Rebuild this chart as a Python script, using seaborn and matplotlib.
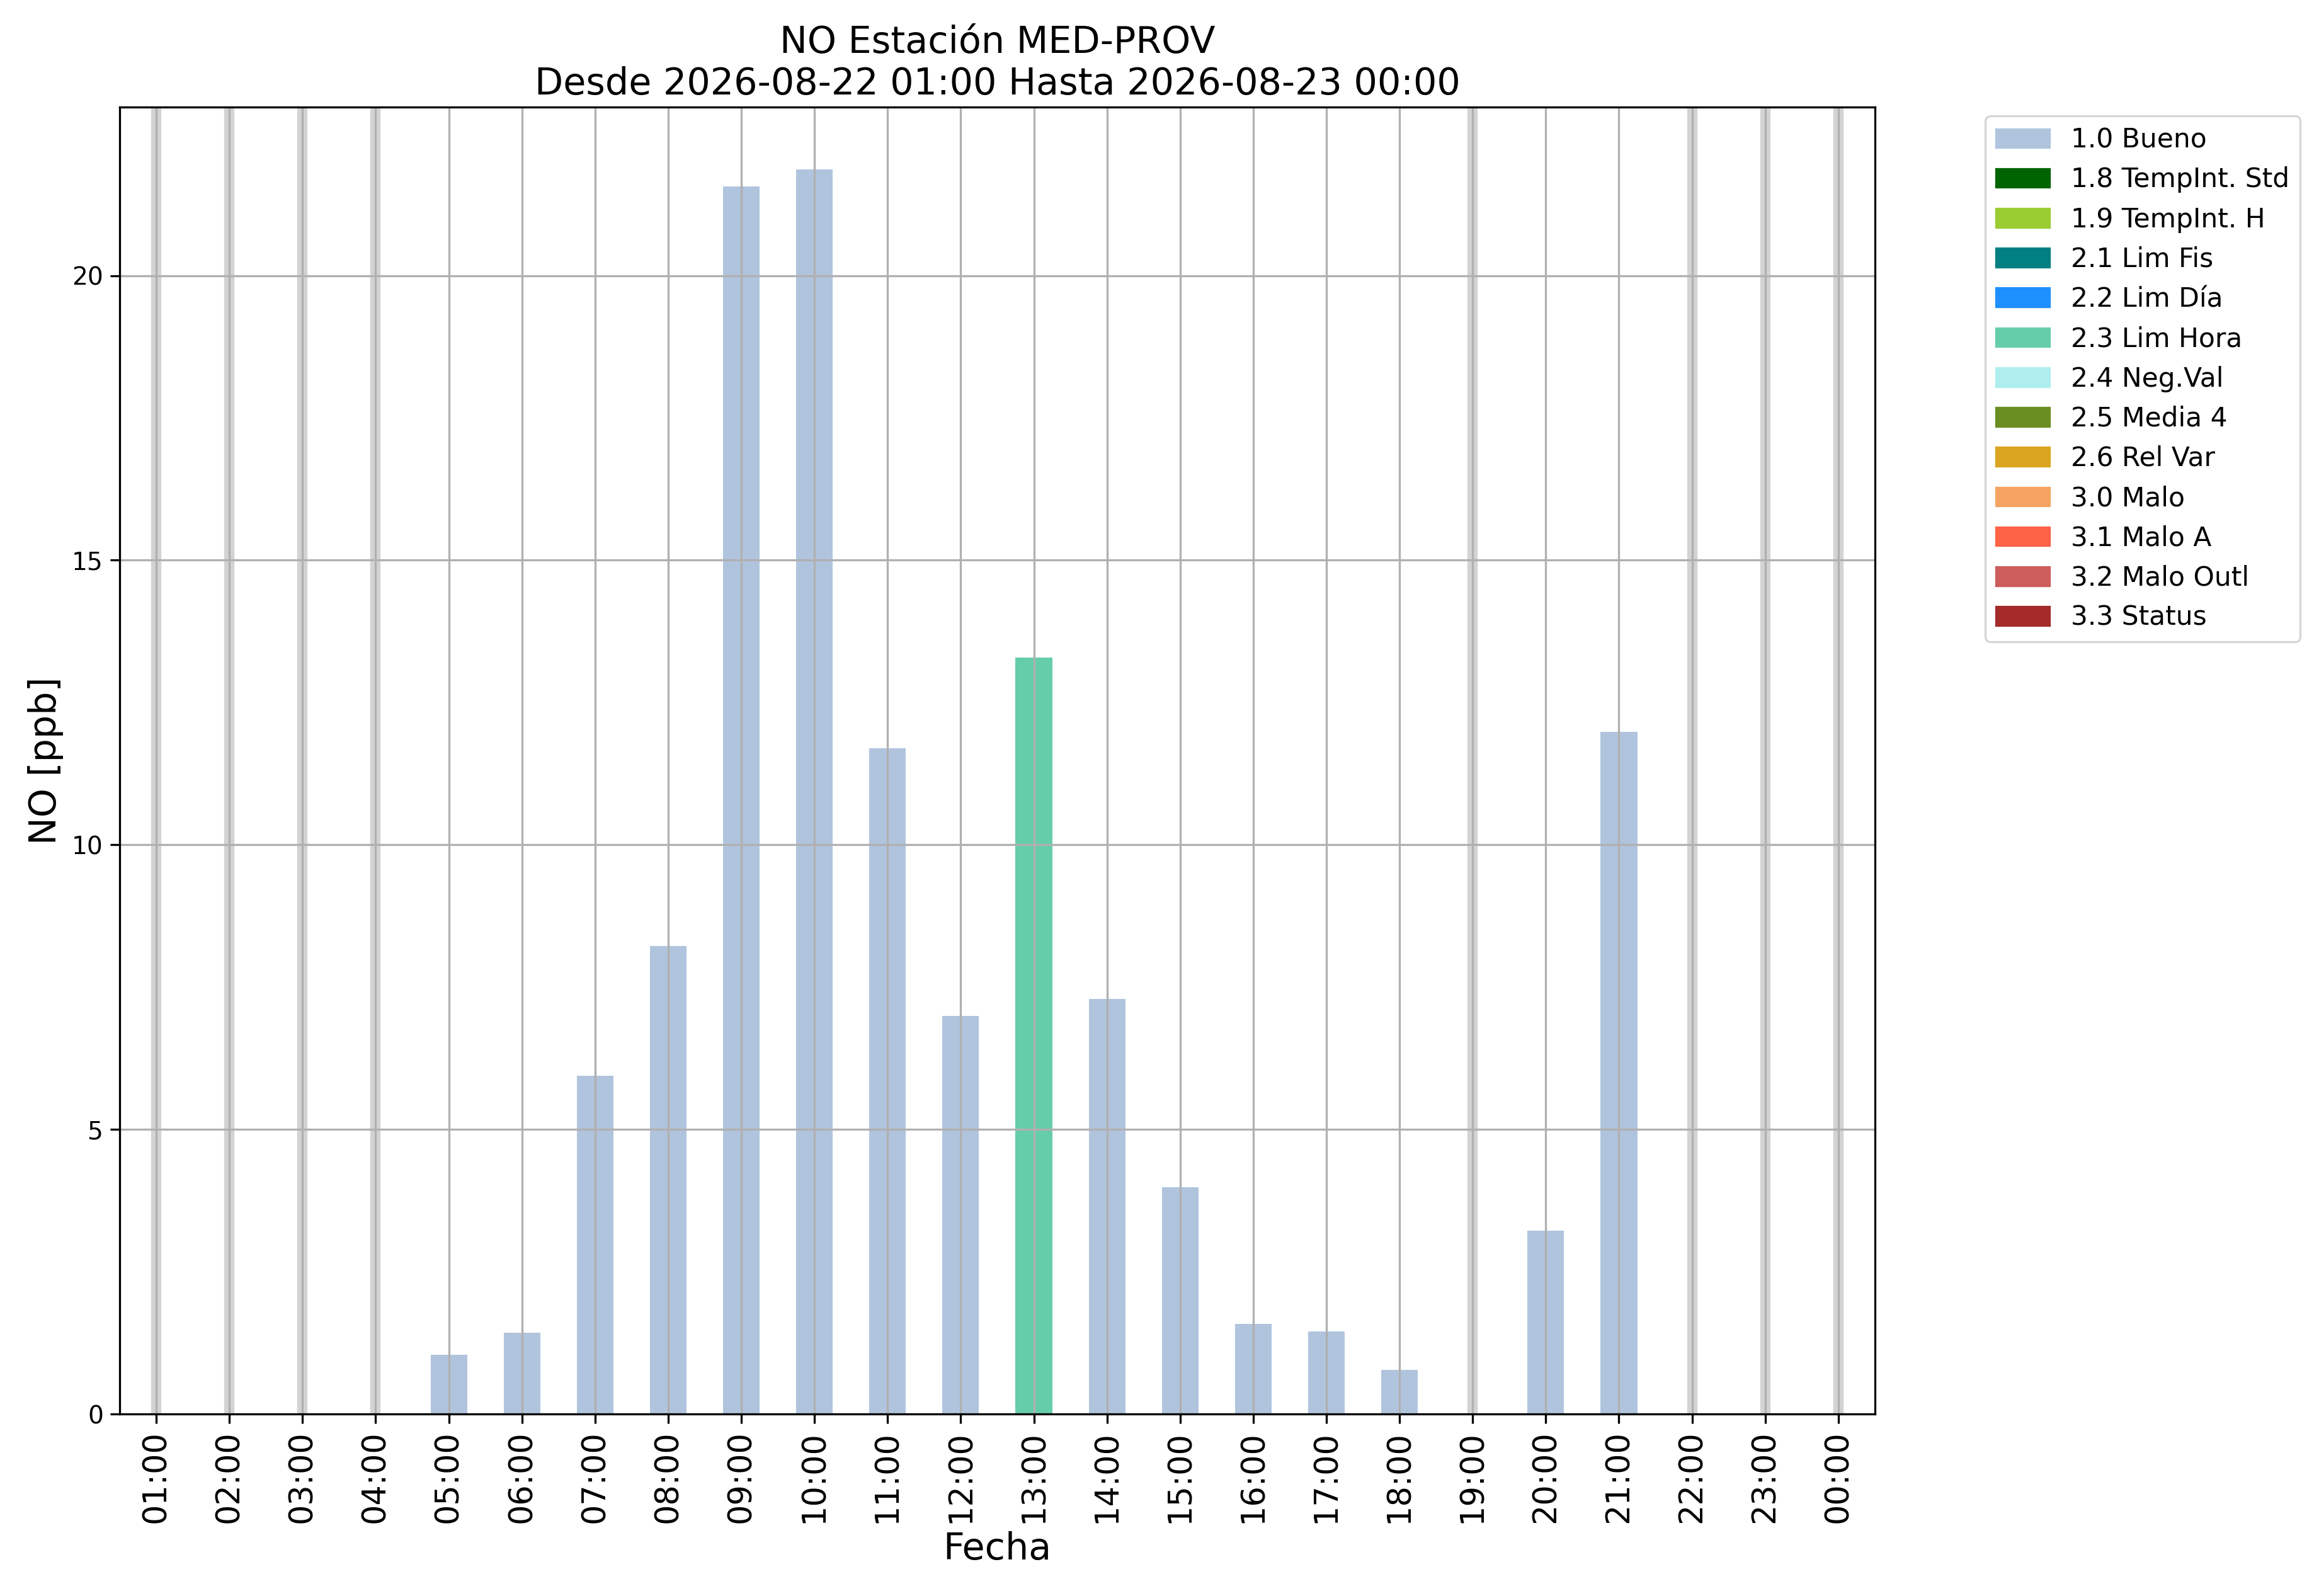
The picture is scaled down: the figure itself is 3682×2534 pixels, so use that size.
import numpy as np
import pandas as pd
import matplotlib
matplotlib.use('Agg')
import matplotlib.pyplot as plt
import seaborn as sns
from matplotlib.patches import Patch

# Datos horarios NO (ppb), NaN = sin dato
horas = ['01:00', '02:00', '03:00', '04:00', '05:00', '06:00', '07:00', '08:00',
         '09:00', '10:00', '11:00', '12:00', '13:00', '14:00', '15:00', '16:00',
         '17:00', '18:00', '19:00', '20:00', '21:00', '22:00', '23:00', '00:00']
valores = [np.nan, np.nan, np.nan, np.nan, 1.04, 1.43, 5.94, 8.22,
           21.57, 21.87, 11.70, 6.99, 13.29, 7.29, 3.99, 1.58,
           1.45, 0.78, np.nan, 3.22, 11.98, np.nan, np.nan, np.nan]
banderas = ['', '', '', '', '1.0 Bueno', '1.0 Bueno', '1.0 Bueno', '1.0 Bueno',
            '1.0 Bueno', '1.0 Bueno', '1.0 Bueno', '1.0 Bueno', '2.3 Lim Hora', '1.0 Bueno',
            '1.0 Bueno', '1.0 Bueno', '1.0 Bueno', '1.0 Bueno', '', '1.0 Bueno',
            '1.0 Bueno', '', '', '']

# Categorias de calidad y colores
categorias = ['1.0 Bueno', '1.8 TempInt. Std', '1.9 TempInt. H', '2.1 Lim Fis',
              '2.2 Lim Día', '2.3 Lim Hora', '2.4 Neg.Val', '2.5 Media 4',
              '2.6 Rel Var', '3.0 Malo', '3.1 Malo A', '3.2 Malo Outl', '3.3 Status']
colores = ['lightsteelblue', 'darkgreen', 'yellowgreen', 'teal',
           'dodgerblue', 'mediumaquamarine', 'paleturquoise', 'olivedrab',
           'goldenrod', 'sandybrown', 'tomato', 'indianred', 'brown']

df = pd.DataFrame({'Fecha': horas, 'NO': valores, 'Flag': banderas})
paleta = dict(zip(categorias, colores))

# todo un poco mas grueso (la figura original era mas chica)
plt.rcParams.update({
    'axes.linewidth': 1.0,
    'grid.linewidth': 1.0,
    'xtick.major.size': 4.5,
    'ytick.major.size': 4.5,
    'xtick.major.width': 1.0,
    'ytick.major.width': 1.0,
})

fig, ax = plt.subplots(figsize=(3682 / 235, 2534 / 235))

sns.barplot(data=df.dropna(), x='Fecha', y='NO', hue='Flag', order=horas,
            hue_order=categorias, palette=paleta, dodge=False, width=0.5,
            saturation=1, legend=False, ax=ax)

# horas sin dato
for i, v in enumerate(valores):
    if np.isnan(v):
        ax.axvline(i, color='lightgray', linewidth=5, zorder=1.2)

ax.set_xlim(-0.5, len(horas) - 0.5)
ax.grid(True)
ax.set_axisbelow('line')

ax.set_title('NO Estación MED-PROV\nDesde 2026-08-22 01:00 Hasta 2026-08-23 00:00', fontsize=18)
ax.set_xlabel('Fecha', fontsize=18)
ax.set_ylabel('NO [ppb]', fontsize=18)
ax.tick_params(axis='x', labelsize=15.6, labelrotation=90)
ax.tick_params(axis='y', labelsize=12)

handles = [Patch(color=c, label=l) for l, c in zip(categorias, colores)]
ax.legend(handles=handles, bbox_to_anchor=(1.063, 0.993), loc='upper left',
          borderaxespad=0, fontsize=13)

plt.subplots_adjust(left=0.0516, right=0.8085, top=0.933, bottom=0.114)
plt.savefig('out.png', dpi=235)
